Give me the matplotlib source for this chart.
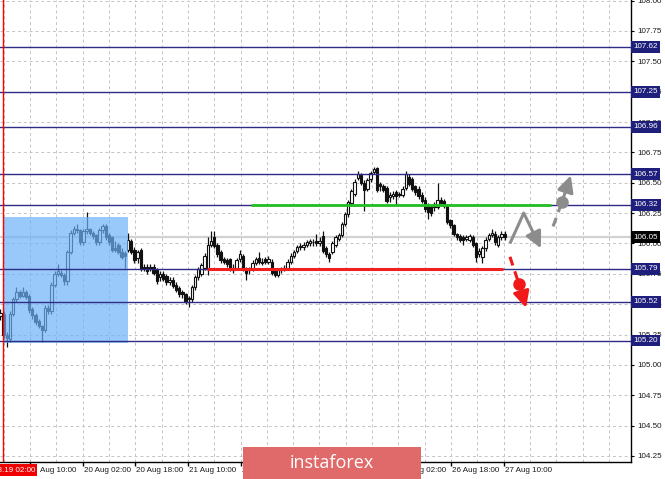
import numpy as np
import matplotlib.pyplot as plt
from matplotlib.patches import Rectangle
from matplotlib.transforms import blended_transform_factory, offset_copy

## USDJPY H1 candles, 19 Aug 02:00 ~ 27 Aug 10:00
opens = [105.40, 105.42, 105.25, 105.21, 105.42, 105.54, 105.60, 105.57, 105.60, 105.57, 105.46, 105.41, 105.36, 105.32, 105.29, 105.47, 105.44, 105.66, 105.75, 105.76, 105.74, 105.69, 105.93, 106.09, 106.12, 106.11, 106.01, 106.10, 106.12, 106.09, 106.07, 106.01, 106.11,
         106.14, 106.07, 106.05, 105.96, 105.99, 105.93, 105.92, 105.95, 106.02, 105.95, 105.88, 105.95, 105.81, 105.81, 105.81, 105.81, 105.79, 105.72, 105.75, 105.73, 105.68, 105.70, 105.66, 105.63, 105.60, 105.58, 105.55, 105.54, 105.64, 105.72, 105.75, 105.80, 105.79,
         105.99, 106.05, 105.99, 105.93, 105.87, 105.86, 105.87, 105.80, 105.80, 105.87, 105.90, 105.79, 105.78, 105.79, 105.84, 105.88, 105.85, 105.87, 105.85, 105.85, 105.77, 105.74, 105.78, 105.79, 105.80, 105.85, 105.90, 105.94, 105.97, 105.97, 105.99,
         106.00, 106.01, 106.02, 106.00, 106.06, 105.96, 105.91, 105.93, 105.99, 106.04, 106.07, 106.16, 106.24, 106.33, 106.41, 106.54, 106.56, 106.50, 106.45, 106.53, 106.59, 106.62, 106.49, 106.47, 106.46, 106.38, 106.39, 106.42, 106.41, 106.40, 106.46, 106.55,
         106.53, 106.47, 106.45, 106.40, 106.36, 106.32, 106.30, 106.32, 106.30, 106.36, 106.35, 106.31, 106.19, 106.15, 106.08, 106.06, 106.05, 106.04, 106.03, 106.05, 106.00, 105.91, 105.89, 105.96, 106.04, 106.07, 106.08, 105.99, 106.05, 106.08]
highs = [105.46, 105.44, 105.27, 105.44, 105.56, 105.64, 105.62, 105.64, 105.62, 105.58, 105.48, 105.43, 105.38, 105.33, 105.49, 105.49, 105.68, 105.77, 105.83, 105.78, 105.76, 105.95, 106.11, 106.14, 106.16, 106.12, 106.12, 106.26, 106.13, 106.10, 106.08, 106.13, 106.16,
         106.16, 106.09, 106.06, 106.02, 106.00, 105.96, 105.94, 106.09, 106.04, 105.97, 105.95, 105.96, 105.83, 105.83, 105.83, 105.83, 105.80, 105.77, 105.77, 105.75, 105.72, 105.72, 105.68, 105.65, 105.62, 105.59, 105.57, 105.66, 105.74, 105.81, 105.84, 105.92, 106.05,
         106.10, 106.10, 106.00, 105.95, 105.89, 105.88, 105.88, 105.83, 105.88, 105.95, 105.91, 105.81, 105.81, 105.86, 105.89, 105.93, 105.88, 105.89, 105.90, 105.87, 105.79, 105.80, 105.81, 105.82, 105.87, 105.92, 105.95, 105.99, 106.00, 106.01, 106.03,
         106.04, 106.04, 106.08, 106.05, 106.10, 105.98, 105.93, 106.02, 106.07, 106.09, 106.18, 106.26, 106.36, 106.45, 106.53, 106.60, 106.58, 106.52, 106.54, 106.60, 106.63, 106.63, 106.51, 106.49, 106.47, 106.42, 106.43, 106.44, 106.42, 106.47, 106.60, 106.57,
         106.55, 106.48, 106.47, 106.42, 106.38, 106.33, 106.32, 106.34, 106.50, 106.38, 106.37, 106.32, 106.20, 106.16, 106.09, 106.08, 106.07, 106.07, 106.08, 106.07, 106.01, 105.96, 105.98, 106.05, 106.09, 106.12, 106.10, 106.07, 106.10, 106.10]
lows = [105.37, 105.22, 105.15, 105.19, 105.40, 105.52, 105.55, 105.56, 105.54, 105.43, 105.38, 105.33, 105.30, 105.19, 105.27, 105.42, 105.42, 105.64, 105.73, 105.72, 105.66, 105.66, 105.91, 106.07, 106.09, 105.99, 105.99, 106.08, 106.07, 106.04, 105.99, 105.99, 106.09,
        106.03, 105.99, 105.93, 105.93, 105.91, 105.87, 105.80, 105.93, 105.91, 105.84, 105.84, 105.77, 105.77, 105.75, 105.77, 105.74, 105.67, 105.69, 105.69, 105.66, 105.66, 105.63, 105.60, 105.56, 105.55, 105.50, 105.48, 105.52, 105.62, 105.70, 105.73, 105.78, 105.74,
        105.97, 105.96, 105.89, 105.84, 105.83, 105.81, 105.77, 105.76, 105.78, 105.85, 105.77, 105.70, 105.75, 105.77, 105.82, 105.83, 105.82, 105.83, 105.83, 105.74, 105.72, 105.72, 105.76, 105.77, 105.78, 105.83, 105.88, 105.92, 105.95, 105.95, 105.97,
        105.98, 105.98, 105.98, 105.98, 105.92, 105.89, 105.85, 105.91, 105.97, 106.02, 106.05, 106.14, 106.22, 106.31, 106.39, 106.52, 106.48, 106.27, 106.43, 106.51, 106.57, 106.42, 106.43, 106.42, 106.33, 106.34, 106.37, 106.32, 106.38, 106.38, 106.44, 106.47,
        106.43, 106.40, 106.37, 106.33, 106.26, 106.20, 106.23, 106.27, 106.28, 106.31, 106.29, 106.16, 106.13, 106.06, 106.03, 106.01, 105.99, 106.02, 106.01, 105.97, 105.85, 105.89, 105.84, 105.94, 106.02, 106.05, 105.99, 105.97, 106.03, 106.03]
closes = [105.43, 105.25, 105.22, 105.42, 105.54, 105.60, 105.57, 105.60, 105.56, 105.45, 105.41, 105.35, 105.32, 105.29, 105.47, 105.44, 105.66, 105.75, 105.77, 105.74, 105.69, 105.93, 106.09, 106.12, 106.11, 106.01, 106.10, 106.12, 106.09, 106.06, 106.01, 106.11, 106.14,
          106.05, 106.01, 105.95, 105.95, 105.93, 105.89, 105.90, 106.03, 105.93, 105.86, 105.93, 105.79, 105.79, 105.77, 105.79, 105.76, 105.69, 105.75, 105.71, 105.68, 105.70, 105.65, 105.62, 105.58, 105.58, 105.52, 105.54, 105.64, 105.72, 105.79, 105.82, 105.90, 105.99,
          106.02, 105.98, 105.91, 105.86, 105.85, 105.83, 105.79, 105.78, 105.86, 105.91, 105.79, 105.76, 105.79, 105.84, 105.87, 105.85, 105.84, 105.85, 105.87, 105.76, 105.74, 105.78, 105.79, 105.80, 105.85, 105.90, 105.93, 105.97, 105.98, 105.99, 106.01,
          106.02, 106.01, 106.00, 106.02, 105.94, 105.91, 105.88, 106.00, 106.05, 106.07, 106.16, 106.24, 106.34, 106.43, 106.51, 106.57, 106.50, 106.44, 106.52, 106.58, 106.61, 106.44, 106.47, 106.44, 106.35, 106.40, 106.41, 106.39, 106.40, 106.45, 106.57, 106.49,
          106.45, 106.42, 106.39, 106.35, 106.28, 106.26, 106.25, 106.30, 106.36, 106.33, 106.31, 106.18, 106.15, 106.08, 106.05, 106.03, 106.03, 106.05, 106.06, 105.99, 105.89, 105.94, 105.96, 106.03, 106.07, 106.09, 106.01, 106.05, 106.08, 106.05]
assert len(opens) == len(highs) == len(lows) == len(closes)

## levels
levels = [107.62, 107.25, 106.96, 106.57, 106.32, 105.79, 105.52, 105.20]
last_price = 106.05
green_level = 106.32
red_level = 105.79

## x axis (hours from 19 Aug 02:00)
tick_hours = [8, 24, 40, 56, 72, 88, 104, 120, 136, 152]
tick_labels = ['19 Aug 10:00', '20 Aug 02:00', '20 Aug 18:00', '21 Aug 10:00', '22 Aug 02:00',
               '22 Aug 18:00', '23 Aug 10:00', '26 Aug 02:00', '26 Aug 18:00', '27 Aug 10:00']

## scenario arrows (hour, price)
zig_h = [153.9, 158.1, 163.3]
zig_p = [106.00, 106.25, 105.96]
up_h = [167.0, 169.7, 172.4]
up_p = [106.14, 106.34, 106.56]
down_h = [153.9, 156.6, 158.8]
down_p = [105.89, 105.67, 105.47]

plt.rcParams['font.family'] = ['Liberation Sans', 'DejaVu Sans']

fig = plt.figure(figsize=(6.65, 4.79), dpi=100)
ax = fig.add_axes([0, 17 / 479, 631 / 665, 462 / 479])
ax.set_xlim(-1.12, 190.7)
ax.set_ylim(104.20, 108.005)

# grid
for h in np.arange(0, 190, 8):
    ax.axvline(h, color='#c4c4c4', lw=0.7, ls=(0, (3, 3)), zorder=0)
yt = np.arange(104.25, 108.01, 0.25)
for v in yt:
    ax.axhline(v, color='#c4c4c4', lw=0.7, ls=(0, (3, 3)), zorder=0)

ax.axhline(last_price, color='#d2d2d2', lw=1.6, zorder=0.5)

# candles
x = np.linspace(-1.0, 152.3, len(closes))
o = np.array(opens)
c = np.array(closes)
ax.vlines(x, lows, highs, color='#111111', lw=0.9, zorder=2)
up = c >= o
ax.bar(x[up], np.maximum(c[up] - o[up], 0.004), bottom=o[up], width=0.72,
       color='white', edgecolor='#111111', lw=0.8, zorder=3)
ax.bar(x[~up], o[~up] - c[~up], bottom=c[~up], width=0.72,
       color='#111111', edgecolor='#111111', lw=0.8, zorder=3)

# blue zone
ax.add_patch(Rectangle((-0.2, 105.181), 38.0, 106.218 - 105.181,
                       facecolor='#6db2f9', alpha=0.7, edgecolor='none', zorder=4))

# levels
for v in levels:
    ax.axhline(v, color='#2d2d86', lw=1.0, zorder=5)
ax.hlines(green_level, 75.2, 166.3, color='#22c022', lw=2.0, zorder=6)
ax.hlines(red_level, 61.8, 151.8, color='#f02020', lw=2.2, zorder=6)
ax.axvline(-0.2, color='red', lw=1.0, zorder=6)

# arrows
head = '-|>,head_length=0.7,head_width=0.35'
gray = '#8c8c8c'
ax.plot(zig_h[:2], zig_p[:2], color=gray, lw=2.2, zorder=7, solid_capstyle='butt')
ax.annotate('', xy=(zig_h[2], zig_p[2]), xytext=(zig_h[1], zig_p[1]),
            arrowprops=dict(arrowstyle=head, color=gray, lw=2.2, mutation_scale=14,
                            shrinkA=0, shrinkB=0), zorder=7)
ax.plot(up_h[:2], up_p[:2], color=gray, lw=2.2, ls=(0, (3, 2)), zorder=7)
ax.annotate('', xy=(up_h[2], up_p[2]), xytext=(up_h[1], up_p[1]),
            arrowprops=dict(arrowstyle=head, color=gray, lw=2.2, mutation_scale=14,
                            shrinkA=0, shrinkB=0), zorder=7)
ax.plot(up_h[1], up_p[1], 'o', color=gray, ms=8, zorder=8)
ax.plot(down_h[:2], down_p[:2], color='#f01818', lw=2.2, ls=(0, (3, 2)), zorder=7)
ax.annotate('', xy=(down_h[2], down_p[2]), xytext=(down_h[1], down_p[1]),
            arrowprops=dict(arrowstyle=head, color='#f01818', lw=2.2, mutation_scale=14,
                            shrinkA=0, shrinkB=0), zorder=7)
ax.plot(down_h[1], down_p[1], 'o', color='#f01818', ms=8, zorder=8)

# axes
for s in ['top', 'left']:
    ax.spines[s].set_visible(False)
ax.spines['right'].set_linewidth(1.0)
ax.spines['bottom'].set_linewidth(1.0)
ax.yaxis.tick_right()
ax.set_yticks(yt)
ax.set_yticklabels([f'{v:.2f}' for v in yt])
ax.tick_params(axis='y', labelsize=5.8, length=2.5, pad=2, labelcolor='#1a1a1a')
ax.set_xticks(tick_hours)
ax.set_xticklabels([])
ax.tick_params(axis='x', length=3, width=1)

bt = blended_transform_factory(ax.transData, ax.transAxes)
for i, (h, lab) in enumerate(zip(tick_hours, tick_labels)):
    tr = offset_copy(bt, fig=fig, x=1, y=0, units='dots')
    if i == 0:
        lab = lab[3:]
        tr = offset_copy(bt, fig=fig, x=10, y=0, units='dots')
    ax.text(h, -0.0175, lab, transform=tr, ha='left', va='center', fontsize=5.8,
            color='#1a1a1a', clip_on=False)

# right price tags
rt = blended_transform_factory(ax.transAxes, ax.transData)
for v in levels:
    ax.text(1.004, v, f'{v:.2f}', transform=rt, ha='left', va='center', fontsize=5.8,
            color='white', zorder=20, clip_on=False,
            bbox=dict(boxstyle='square,pad=0.3', fc='#1e1e7c', ec='none'))
ax.text(1.004, last_price, f'{last_price:.2f}', transform=rt, ha='left', va='center',
        fontsize=5.8, color='white', zorder=20, clip_on=False,
        bbox=dict(boxstyle='square,pad=0.3', fc='black', ec='none'))

# crosshair time label
fig.text(35 / 665, (479 - 470) / 479, '2019.08.19 02:00', ha='right', va='center',
         fontsize=5.8, color='white', bbox=dict(boxstyle='square,pad=0.25', fc='#f00000', ec='none'))

# watermark banner
fig.patches.append(Rectangle((243 / 665, 0), 178 / 665, 32 / 479, transform=fig.transFigure,
                             facecolor='#e06a6a', edgecolor='none', zorder=30))
fig.text(332 / 665, (479 - 463) / 479, 'instaforex', ha='center', va='center',
         fontsize=13, color='white', family=['Open Sans', 'DejaVu Sans'], zorder=31)

fig.savefig('out.png', dpi=100)
